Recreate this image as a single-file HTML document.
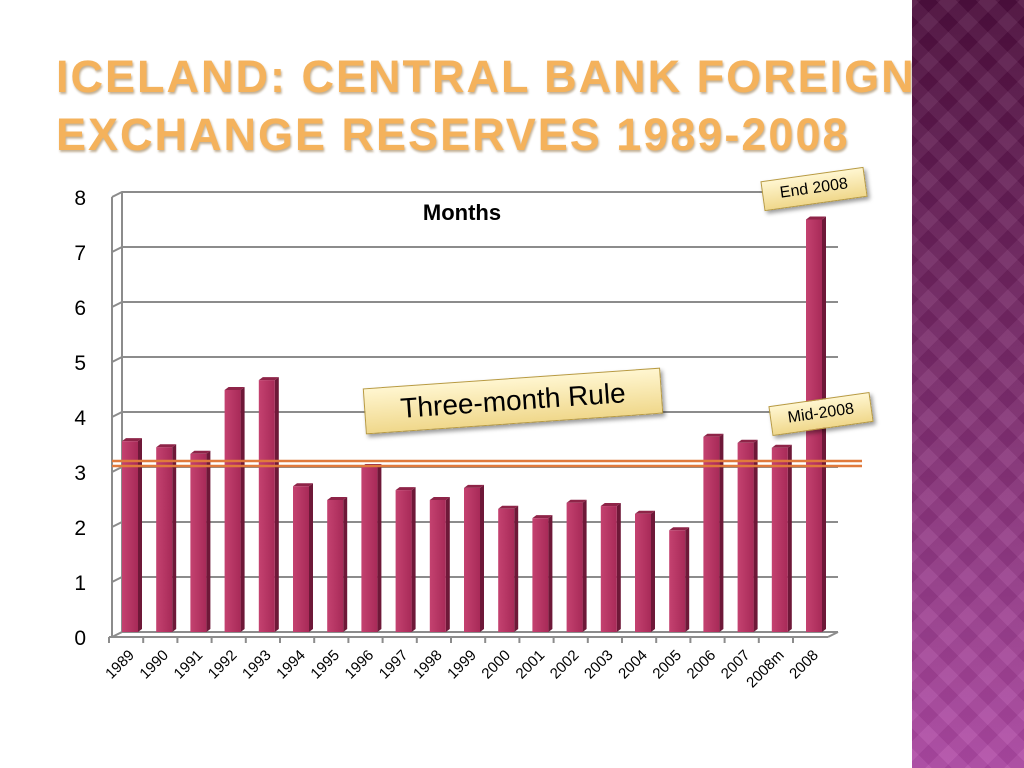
<!DOCTYPE html>
<html><head><meta charset="utf-8">
<style>
body{margin:0;width:1024px;height:768px;overflow:hidden;background:#fff;font-family:"Liberation Sans",sans-serif;position:relative}
#title{position:absolute;left:56px;top:48px;font-size:45px;line-height:58px;letter-spacing:2px;color:#f4b25c;font-weight:bold;text-shadow:1px 2px 2px rgba(120,80,20,.45);margin:0}
#side{position:absolute;left:912px;top:0;width:112px;height:768px;background:linear-gradient(#4e0f3e,#7d2c6e 50%,#b04aa6)}
#side:before{content:"";position:absolute;inset:0;background:repeating-linear-gradient(45deg,rgba(255,255,255,.05) 0 14px,rgba(0,0,0,.04) 14px 28px),repeating-linear-gradient(-45deg,rgba(255,255,255,.05) 0 14px,rgba(0,0,0,.04) 14px 28px)}
.tag{position:absolute;background:linear-gradient(#fff6d0,#f0d88c);border:1px solid #b89a40;box-shadow:2px 3px 4px rgba(0,0,0,.4);color:#000;text-align:center;white-space:nowrap}
</style></head><body>
<h1 id="title">ICELAND: CENTRAL BANK FOREIGN<br>EXCHANGE RESERVES 1989-2008</h1>
<div id="side"></div>
<svg id="chart" width="1024" height="768" style="position:absolute;left:0;top:0"></svg>
<div class="tag" style="left:364px;top:378px;width:296px;height:44px;line-height:44px;font-size:28px;transform:rotate(-4deg)">Three-month Rule</div>
<div class="tag" style="left:770px;top:399px;width:100px;height:28px;line-height:28px;font-size:16px;transform:rotate(-8deg)">Mid-2008</div>
<div class="tag" style="left:762px;top:174px;width:102px;height:28px;line-height:28px;font-size:16px;transform:rotate(-8deg)">End 2008</div>
<script>
const categories=["1989","1990","1991","1992","1993","1994","1995","1996","1997","1998","1999","2000","2001","2002","2003","2004","2005","2006","2007","2008m","2008"];
const values=[3.47,3.36,3.24,4.4,4.58,2.65,2.4,3.0,2.58,2.4,2.62,2.24,2.07,2.35,2.29,2.15,1.85,3.55,3.44,3.35,7.5];
const yTicks=[0,1,2,3,4,5,6,7,8];
const ruleValue=3;
const svg=document.getElementById('chart');
const NS='http://www.w3.org/2000/svg';
function mk(t,a,p){const e=document.createElementNS(NS,t);for(const k in a)e.setAttribute(k,a[k]);(p||svg).appendChild(e);return e;}
const y0=632,unit=55,xL=122,xR=838,dx=10,dy=5,step=34.2,x0=109;
const Y=v=>y0-v*unit;
const X=i=>x0+i*step;
const defs=mk('defs',{});
const g=mk('linearGradient',{id:'bf',x1:0,x2:1,y1:0,y2:0},defs);
mk('stop',{offset:0,'stop-color':'#c44270'},g);mk('stop',{offset:1,'stop-color':'#a82a58'},g);
yTicks.forEach(v=>{
  const l=mk('polyline',{points:`${xL-dx},${Y(v)+dy} ${xL},${Y(v)} ${xR},${Y(v)}`,fill:'none',stroke:'#8c8c8c','stroke-width':2});
  
  const t=mk('text',{x:86,y:Y(v)+dy+8,'font-size':21,'text-anchor':'end',fill:'#000'});t.textContent=v;
  
});
mk('line',{x1:xL,y1:Y(8),x2:xL,y2:y0,stroke:'#8c8c8c','stroke-width':2});
mk('line',{x1:xL-dx,y1:Y(8)+dy,x2:xL-dx,y2:y0+dy,stroke:'#8c8c8c','stroke-width':2});
mk('line',{x1:x0,y1:y0+dy,x2:xR-dx,y2:y0+dy,stroke:'#8c8c8c','stroke-width':2});
mk('line',{x1:xR-dx,y1:y0+dy,x2:xR,y2:y0,stroke:'#8c8c8c','stroke-width':2});
categories.forEach((c,i)=>{
  mk('line',{x1:X(i),y1:y0+dy,x2:X(i),y2:y0+dy+6,stroke:'#8c8c8c','stroke-width':2});
  const bx=X(i)+13,bw=16,top=Y(values[i]);
  const side=mk('polygon',{points:`${bx+bw},${top} ${bx+bw+4},${top-3} ${bx+bw+4},${y0-3} ${bx+bw},${y0}`,fill:'#6e1838'});
  
  const tp=mk('polygon',{points:`${bx},${top} ${bx+4},${top-3} ${bx+bw+4},${top-3} ${bx+bw},${top}`,fill:'#8e2448'});
  
  const r=mk('rect',{x:bx,y:top,width:bw,height:y0-top,fill:'url(#bf)'});
  
  const tx=X(i)+26,ty=y0+24;
  const t=mk('text',{x:tx,y:ty,'font-size':15,'text-anchor':'end',transform:`rotate(-45 ${tx} ${ty})`,fill:'#000'});t.textContent=c;
  
});
[Y(ruleValue)-6,Y(ruleValue)-1].forEach(yy=>{
  const l=mk('line',{x1:112,y1:yy,x2:862,y2:yy,stroke:'#e07a3c','stroke-width':2.5});
  
});
const m=mk('text',{x:462,y:220,'font-size':22,'font-weight':'bold','text-anchor':'middle'});m.textContent='Months';

</script>
</body></html>
